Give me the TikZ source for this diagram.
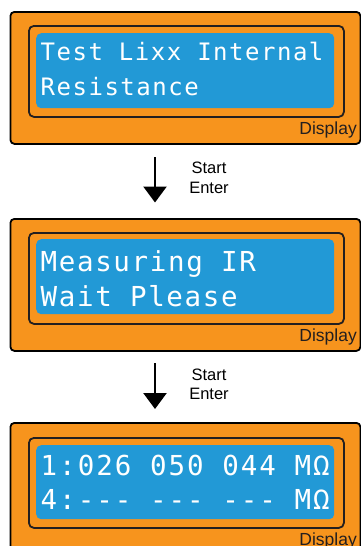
\documentclass[tikz,border=0pt]{standalone}
\usepackage{fontspec}
\setmainfont{Liberation Sans}
\newfontfamily\lcdfont{DejaVu Sans Mono}
\definecolor{panelorange}{HTML}{F7941D}
\definecolor{lcdblue}{HTML}{2299D6}
\definecolor{labelgray}{HTML}{231F20}
\tikzset{
  outerbox/.style={draw=black, line width=1.8pt, fill=panelorange, rounded corners=4pt},
  innerbox/.style={draw=labelgray, line width=1.8pt, fill=panelorange, rounded corners=5pt},
  lcdbox/.style={fill=lcdblue, rounded corners=5pt},
  lcdtextA/.style={anchor=base west, inner sep=0pt, text=white, font=\lcdfont\fontsize{24}{24}\selectfont\addfontfeature{LetterSpace=6.3}},
  lcdtextB/.style={anchor=base west, inner sep=0pt, text=white, font=\lcdfont\fontsize{27.5}{27.5}\selectfont\addfontfeature{LetterSpace=6}},
  lcdtextC/.style={anchor=base west, inner sep=0pt, text=white, font=\lcdfont\fontsize{27.5}{27.5}\selectfont\addfontfeature{LetterSpace=7.3}},
  displabel/.style={anchor=base east, inner sep=0pt, text=labelgray, font=\fontsize{17.5}{17.5}\selectfont},
  steplabel/.style={anchor=base, inner sep=0pt, text=black, font=\fontsize{16.5}{16.5}\selectfont},
  flowarrow/.style={line width=2.6pt, -{Triangle[length=16pt,width=23pt]}},
}
\usetikzlibrary{arrows.meta}
\begin{document}
\begin{tikzpicture}[x=1pt,y=-1pt]
\useasboundingbox (0,0) rectangle (361,546);
\clip (0,0) rectangle (361,546);
% Panel 1
\node[outerbox, minimum width=350pt, minimum height=132pt, anchor=north west, inner sep=0pt] (p1) at (9.5,11) {};
\node[innerbox, minimum width=315pt, minimum height=91pt, anchor=north west, inner sep=0pt] (i1) at (28,25) {};
\node[lcdbox, minimum width=298pt, minimum height=75pt, anchor=north west, inner sep=0pt] (b1) at (36,33) {};
\node[lcdtextA] (t1a) at (40.5,60.7) {Test Lixx Internal};
\node[lcdtextA] (t1b) at (40.5,95) {Resistance};
\node[displabel] (d1) at (357,134) {Display};
% Arrow 1
\coordinate (a1s) at (155,157);
\coordinate (a1e) at (155,202.5);
\draw[flowarrow] (a1s) -- (a1e);
\node[steplabel] (s1) at (209,173) {Start};
\node[steplabel] (e1) at (209,193) {Enter};
% Panel 2
\node[outerbox, minimum width=350pt, minimum height=132pt, anchor=north west, inner sep=0pt] (p2) at (9.5,218) {};
\node[innerbox, minimum width=315pt, minimum height=91pt, anchor=north west, inner sep=0pt] (i2) at (28,232) {};
\node[lcdbox, minimum width=298pt, minimum height=75pt, anchor=north west, inner sep=0pt] (b2) at (36,239) {};
\node[lcdtextB] (t2a) at (40.5,271) {Measuring IR};
\node[lcdtextB] (t2b) at (40.5,306) {Wait Please};
\node[displabel] (d2) at (357,341) {Display};
% Arrow 2
\coordinate (a2s) at (155,363);
\coordinate (a2e) at (155,409);
\draw[flowarrow] (a2s) -- (a2e);
\node[steplabel] (s2) at (209,380) {Start};
\node[steplabel] (e2) at (209,399) {Enter};
% Panel 3
\node[outerbox, minimum width=350pt, minimum height=132pt, anchor=north west, inner sep=0pt] (p3) at (9.5,422) {};
\node[innerbox, minimum width=315pt, minimum height=90pt, anchor=north west, inner sep=0pt] (i3) at (28,437) {};
\node[lcdbox, minimum width=298pt, minimum height=74pt, anchor=north west, inner sep=0pt] (b3) at (36,445) {};
\node[lcdtextC] (t3a) at (40.5,475) {1:026 050 044 M\char"03A9};
\node[lcdtextC] (t3b) at (40.5,509) {4:--- --- --- M\char"03A9};
\node[displabel] (d3) at (357,545) {Display};
\end{tikzpicture}
\end{document}
